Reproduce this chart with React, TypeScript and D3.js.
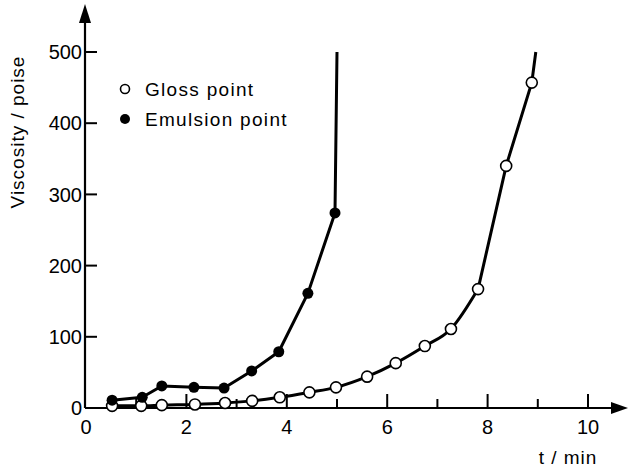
import React from 'react'
import * as d3 from 'd3'

// emulsion point (filled circles)
const emulsionT = [0.52, 1.12, 1.51, 2.15, 2.75, 3.3, 3.84, 4.42, 4.96]
const emulsionV = [11, 15, 31, 29, 28, 52, 79, 161, 274]
// gloss point (open circles)
const glossT = [0.52, 1.1, 1.51, 2.17, 2.77, 3.31, 3.86, 4.45, 4.98, 5.6, 6.17, 6.75, 7.27, 7.81, 8.37, 8.88]
const glossV = [3, 3, 4, 5, 7, 10, 15, 22, 29, 44, 63, 87, 111, 167, 340, 457]
// where each curve leaves the top of the plot
const curveEndT = [5.0, 8.96]
const curveEndV = [500, 500]

const xTicks = [0, 2, 4, 6, 8, 10]
const xMinorTicks = [1, 3, 5, 7, 9]
const yTicks = [0, 100, 200, 300, 400, 500]

const W = 628
const H = 467
const font = '"Liberation Sans", Arial, sans-serif'

export default function App() {
    const x = d3.scaleLinear().domain([0, 10]).range([86, 588])
    const y = d3.scaleLinear().domain([0, 500]).range([408, 52])

    const emulsion = emulsionT.map((t, i) => [t, emulsionV[i]])
    const gloss = glossT.map((t, i) => [t, glossV[i]])

    const straight = d3.line().x(d => x(d[0])).y(d => y(d[1]))
    const smooth = d3.line().x(d => x(d[0])).y(d => y(d[1])).curve(d3.curveMonotoneX)

    const emulsionPath = straight([...emulsion, [curveEndT[0], curveEndV[0]]])
    // smooth up to the knee, then straight to the top
    const knee = 13
    const glossPath = smooth(gloss.slice(0, knee + 1)) +
        straight([...gloss.slice(knee), [curveEndT[1], curveEndV[1]]]).replace('M', 'L')

    const x0 = x(0) - 1
    const y0 = y(0)

    return (
        <svg width={W} height={H} style={{ position: 'absolute', left: 0, top: 0 }}>
            <rect width={W} height={H} fill="#fff" />
            {/* axes */}
            <line x1={x0} x2={x0} y1={y0} y2={18} stroke="#000" strokeWidth={2.2} />
            <path d={`M${x0 - 6},${23} L${x0},${4} L${x0 + 6},${23} Z`} fill="#000" />
            <line x1={x0} x2={616} y1={y0} y2={y0} stroke="#000" strokeWidth={2.2} />
            <path d={`M${611},${y0 - 6} L${628},${y0} L${611},${y0 + 6} Z`} fill="#000" />

            {yTicks.filter(v => v > 0).map(v => (
                <line key={v} x1={x0} x2={x0 + 12} y1={y(v)} y2={y(v)} stroke="#000" strokeWidth={2} />
            ))}
            {yTicks.map(v => (
                <text key={v} x={x0 - 3} y={y(v)} dy="0.36em" textAnchor="end" fontFamily={font} fontSize={20}>{v}</text>
            ))}
            {xTicks.filter(v => v > 0).map(v => (
                <line key={v} x1={x(v)} x2={x(v)} y1={y0} y2={y0 - 14} stroke="#000" strokeWidth={2} />
            ))}
            {xMinorTicks.map(v => (
                <line key={v} x1={x(v)} x2={x(v)} y1={y0} y2={y0 - 9} stroke="#000" strokeWidth={2} />
            ))}
            {xTicks.map(v => (
                <text key={v} x={x(v)} y={y0 + 26} textAnchor="middle" fontFamily={font} fontSize={20}>{v}</text>
            ))}

            <text x={568} y={464} textAnchor="middle" fontFamily={font} fontSize={19} letterSpacing={1}>t / min</text>
            <text transform="translate(24,132) rotate(-90)" textAnchor="middle" fontFamily={font} fontSize={19} letterSpacing={1}>Viscosity / poise</text>

            {/* curves */}
            <path d={emulsionPath} fill="none" stroke="#000" strokeWidth={3} strokeLinejoin="round" />
            <path d={glossPath} fill="none" stroke="#000" strokeWidth={3} strokeLinejoin="round" />
            {gloss.map((d, i) => (
                <circle key={i} cx={x(d[0])} cy={y(d[1])} r={5.5} fill="#fff" stroke="#000" strokeWidth={1.6} />
            ))}
            {emulsion.map((d, i) => (
                <circle key={i} cx={x(d[0])} cy={y(d[1])} r={5.5} fill="#000" />
            ))}

            {/* legend */}
            <circle cx={125} cy={89} r={4.5} fill="#fff" stroke="#000" strokeWidth={1.6} />
            <text x={145} y={89} dy="0.36em" fontFamily={font} fontSize={19} letterSpacing={1.3}>Gloss point</text>
            <circle cx={125} cy={119} r={5} fill="#000" />
            <text x={145} y={119} dy="0.36em" fontFamily={font} fontSize={19} letterSpacing={1.3}>Emulsion point</text>
        </svg>
    )
}
